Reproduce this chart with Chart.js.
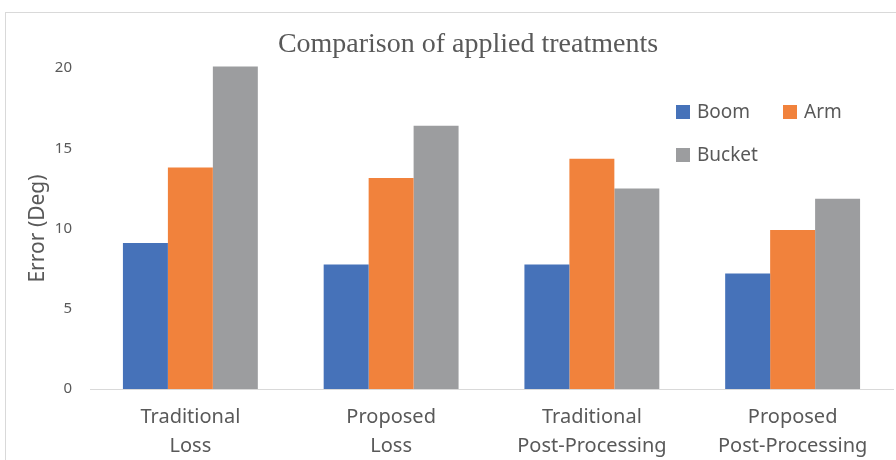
<!DOCTYPE html>
<html>
<head>
<meta charset="utf-8">
<script src="https://cdn.jsdelivr.net/npm/chart.js@4/dist/chart.umd.min.js"></script>
<style>
  html, body { margin: 0; padding: 0; background: #ffffff; }
  #wrap { width: 896px; height: 460px; position: relative; }
</style>
</head>
<body>
<div id="wrap"><canvas id="c" width="896" height="460"></canvas></div>
<script>
// Treatments compared (two-line labels)
const categories = [
  ["Traditional", "Loss"],
  ["Proposed", "Loss"],
  ["Traditional", "Post-Processing"],
  ["Proposed", "Post-Processing"]
];
// Error in degrees per joint
const boom   = [9.1, 7.75, 7.75, 7.2];
const arm    = [13.8, 13.15, 14.35, 9.9];
const bucket = [20.1, 16.4, 12.5, 11.85];
const seriesNames = ["Boom", "Arm", "Bucket"];
const yTicks = [0, 5, 10, 15, 20];
const chartTitle = "Comparison of applied treatments";
const yTitle = "Error (Deg)";

const colors = ["#4672B9", "#F1823C", "#9C9D9F"];
const textColor = "#595959";
const sans = "'Noto Sans', 'Open Sans', sans-serif";

// Outer frame, title and legend drawn on the canvas
const decorations = {
  id: "decorations",
  beforeDraw(chart) {
    const ctx = chart.ctx;
    ctx.save();
    ctx.strokeStyle = "#d9d9d9";
    ctx.lineWidth = 1;
    ctx.strokeRect(5.5, 12.5, 1000, 1000);
    ctx.restore();
  },
  afterDraw(chart) {
    const ctx = chart.ctx;
    ctx.save();
    ctx.fillStyle = textColor;
    ctx.font = "28px 'Liberation Serif', 'Times New Roman', serif";
    ctx.textAlign = "center";
    ctx.textBaseline = "middle";
    ctx.fillText(chartTitle, 468, 45);

    const spots = [[676, 105], [783, 105], [676, 148]];
    ctx.font = "19px " + sans;
    ctx.textAlign = "left";
    chart.data.datasets.forEach((ds, i) => {
      const [x, y] = spots[i];
      ctx.fillStyle = ds.backgroundColor;
      ctx.fillRect(x, y, 14, 14);
      ctx.fillStyle = textColor;
      ctx.fillText(ds.label, x + 21, y + 8);
    });
    ctx.restore();
  }
};

new Chart(document.getElementById("c"), {
  type: "bar",
  data: {
    labels: categories,
    datasets: [boom, arm, bucket].map((vals, i) => ({
      label: seriesNames[i],
      data: vals,
      backgroundColor: colors[i],
      borderWidth: 0,
      categoryPercentage: 0.672,
      barPercentage: 1.0,
      clip: false
    }))
  },
  options: {
    responsive: false,
    animation: false,
    devicePixelRatio: 1,
    layout: { padding: { left: 0, top: 68, right: 3, bottom: 0 } },
    plugins: {
      legend: { display: false },
      title: { display: false },
      tooltip: { enabled: false }
    },
    scales: {
      x: {
        grid: { display: false, drawTicks: false },
        border: { display: true, color: "#d9d9d9", width: 1 },
        ticks: {
          color: textColor,
          font: { family: sans, size: 20, lineHeight: 1.45 },
          padding: 14,
          maxRotation: 0,
          autoSkip: false
        },
        afterFit(scale) { scale.height = 71; }
      },
      y: {
        min: 0,
        max: 20,
        grid: { display: false, drawTicks: false },
        border: { display: false },
        afterBuildTicks(scale) { scale.ticks = yTicks.map(v => ({ value: v })); },
        ticks: {
          color: textColor,
          font: { family: sans, size: 15 },
          padding: 18
        },
        title: {
          display: true,
          text: yTitle,
          color: textColor,
          font: { family: sans, size: 21 },
          padding: { top: 25, bottom: 0 }
        },
        afterFit(scale) { scale.width = 90; }
      }
    }
  },
  plugins: [decorations]
});
</script>
</body>
</html>
